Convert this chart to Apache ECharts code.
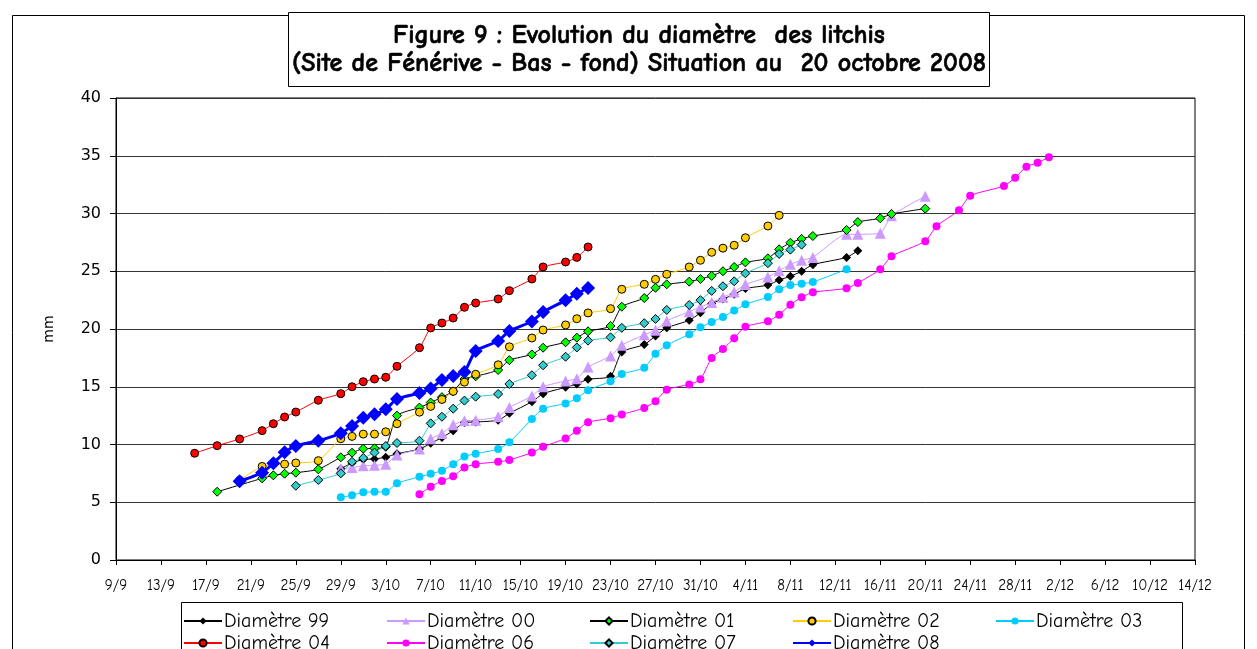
<!DOCTYPE html>
<html><head><meta charset="utf-8">
<script src="https://cdn.jsdelivr.net/npm/echarts@6/dist/echarts.min.js"></script>
<style>html,body{margin:0;padding:0;background:#fff}#c{width:1257px;height:649px}</style>
</head><body><div id="c"></div>
<script>
// ---- data ----
const xTickLabels = ['9/9','13/9','17/9','21/9','25/9','29/9','3/10','7/10','11/10','15/10','19/10','23/10','27/10','31/10','4/11','8/11','12/11','16/11','20/11','24/11','28/11','2/12','6/12','10/12','14/12'];
const yTicks = [0,5,10,15,20,25,30,35,40];

const dates99 = ['29/9','30/9','1/10','2/10','3/10','4/10','6/10','7/10','8/10','9/10','10/10','11/10','13/10','14/10','16/10','17/10','19/10','20/10','21/10','23/10','24/10','26/10','27/10','28/10','30/10','31/10','1/11','2/11','3/11','4/11','6/11','7/11','8/11','9/11','10/11','13/11','14/11'];
const vals99 = [7.9,8.4,8.7,8.75,8.9,9.2,9.6,10.1,10.6,11.2,11.9,11.95,12.1,12.7,13.7,14.4,14.95,15.24,15.65,15.9,18.0,18.65,19.4,20.1,20.75,21.4,22.2,22.6,23.0,23.5,23.8,24.24,24.56,25.0,25.57,26.2,26.78];

const dates00 = ['29/9','30/9','1/10','2/10','3/10','4/10','6/10','7/10','8/10','9/10','10/10','11/10','13/10','14/10','16/10','17/10','19/10','20/10','21/10','23/10','24/10','26/10','27/10','28/10','30/10','31/10','1/11','2/11','3/11','4/11','6/11','7/11','8/11','9/11','10/11','13/11','14/11','16/11','17/11','20/11'];
const vals00 = [7.9,8.0,8.15,8.2,8.3,9.1,9.6,10.5,10.95,11.7,12.05,12.1,12.4,13.2,14.2,15.0,15.5,15.7,16.7,17.66,18.6,19.5,19.9,20.7,21.5,21.9,22.3,22.75,23.2,23.85,24.5,25.05,25.6,25.95,26.2,28.2,28.2,28.3,29.8,31.5];

const dates01 = ['18/9','22/9','23/9','24/9','25/9','27/9','29/9','30/9','1/10','2/10','3/10','4/10','6/10','7/10','8/10','9/10','10/10','11/10','13/10','14/10','16/10','17/10','19/10','20/10','21/10','23/10','24/10','26/10','27/10','28/10','30/10','31/10','1/11','2/11','3/11','4/11','6/11','7/11','8/11','9/11','10/11','13/11','14/11','16/11','17/11','20/11'];
const vals01 = [5.91,7.07,7.33,7.47,7.56,7.85,8.89,9.29,9.64,9.67,9.8,12.5,13.2,13.63,14.1,14.6,15.67,15.9,16.45,17.3,17.8,18.38,18.85,19.25,19.8,20.26,21.93,22.68,23.57,23.87,24.1,24.33,24.6,25.0,25.37,25.77,26.12,26.9,27.47,27.8,28.05,28.57,29.26,29.58,29.96,30.42];

const dates02 = ['20/9','22/9','24/9','25/9','27/9','29/9','30/9','1/10','2/10','3/10','4/10','6/10','7/10','8/10','9/10','10/10','11/10','13/10','14/10','16/10','17/10','19/10','20/10','21/10','23/10','24/10','26/10','27/10','28/10','30/10','31/10','1/11','2/11','3/11','4/11','6/11','7/11'];
const vals02 = [6.9,8.1,8.3,8.4,8.6,10.5,10.7,10.9,10.9,11.1,11.8,12.8,13.3,13.9,14.6,15.4,16.08,16.9,18.46,19.22,19.91,20.35,20.89,21.39,21.76,23.44,23.87,24.3,24.74,25.37,25.95,26.64,27.0,27.25,27.9,28.92,29.84];

const dates03 = ['29/9','30/9','1/10','2/10','3/10','4/10','6/10','7/10','8/10','9/10','10/10','11/10','13/10','14/10','16/10','17/10','19/10','20/10','21/10','23/10','24/10','26/10','27/10','28/10','30/10','31/10','1/11','2/11','3/11','4/11','6/11','7/11','8/11','9/11','10/11','13/11'];
const vals03 = [5.43,5.6,5.86,5.9,5.9,6.64,7.2,7.47,7.73,8.3,8.96,9.2,9.6,10.2,12.2,13.1,13.56,14.0,14.7,15.47,16.1,16.65,17.86,18.6,19.55,20.15,20.6,21.04,21.6,22.14,22.77,23.44,23.8,23.92,24.07,25.17];

const dates04 = ['16/9','18/9','20/9','22/9','23/9','24/9','25/9','27/9','29/9','30/9','1/10','2/10','3/10','4/10','6/10','7/10','8/10','9/10','10/10','11/10','13/10','14/10','16/10','17/10','19/10','20/10','21/10'];
const vals04 = [9.24,9.9,10.48,11.2,11.8,12.38,12.81,13.83,14.4,15.0,15.44,15.67,15.82,16.77,18.38,20.09,20.52,20.95,21.88,22.25,22.6,23.32,24.33,25.37,25.8,26.2,27.1];

const dates06 = ['6/10','7/10','8/10','9/10','10/10','11/10','13/10','14/10','16/10','17/10','19/10','20/10','21/10','23/10','24/10','26/10','27/10','28/10','30/10','31/10','1/11','2/11','3/11','4/11','6/11','7/11','8/11','9/11','10/11','13/11','14/11','16/11','17/11','20/11','21/11','23/11','24/11','27/11','28/11','29/11','30/11','1/12'];
const vals06 = [5.69,6.35,6.84,7.25,8.0,8.3,8.5,8.66,9.3,9.8,10.53,11.2,11.93,12.27,12.6,13.16,13.74,14.75,15.2,15.64,17.5,18.27,19.2,20.2,20.67,21.24,22.1,22.74,23.18,23.52,23.98,25.17,26.3,27.6,28.9,30.28,31.54,32.38,33.1,34.05,34.4,34.87];

const dates07 = ['25/9','27/9','29/9','30/9','1/10','2/10','3/10','4/10','6/10','7/10','8/10','9/10','10/10','11/10','13/10','14/10','16/10','17/10','19/10','20/10','21/10','23/10','24/10','26/10','27/10','28/10','30/10','31/10','1/11','2/11','3/11','4/11','6/11','7/11','8/11','9/11'];
const vals07 = [6.43,6.93,7.5,8.5,8.83,9.3,9.87,10.13,10.33,11.83,12.4,13.1,13.8,14.14,14.37,15.24,16.0,16.86,17.6,18.4,19.0,19.28,20.1,20.5,20.87,21.65,22.08,22.5,23.3,23.7,24.13,24.82,25.7,26.5,26.87,27.3];

const dates08 = ['20/9','22/9','23/9','24/9','25/9','27/9','29/9','30/9','1/10','2/10','3/10','4/10','6/10','7/10','8/10','9/10','10/10','11/10','13/10','14/10','16/10','17/10','19/10','20/10','21/10'];
const vals08 = [6.81,7.56,8.37,9.32,9.87,10.33,10.97,11.6,12.32,12.61,13.05,13.94,14.46,14.85,15.58,15.93,16.28,18.1,18.96,19.83,20.65,21.47,22.48,23.06,23.55];

const seriesNames = ['Diamètre 99','Diamètre 00','Diamètre 01','Diamètre 02','Diamètre 03','Diamètre 04','Diamètre 06','Diamètre 07','Diamètre 08'];
const titleLine1 = 'Figure 9 : Evolution du diamètre  des litchis';
const titleLine2 = '(Site de Fénérive - Bas - fond) Situation au  20 octobre 2008';
const yName = 'mm';

// ---- helpers ----
const ORIGIN = Date.UTC(2008, 8, 9);
function dayOf(s) { const p = s.split('/'); return Math.round((Date.UTC(2008, +p[1]-1, +p[0]) - ORIGIN) / 86400000); }
function pts(dates, vals) { return dates.map((d, i) => [dayOf(d), vals[i]]); }

const FONT = "'Comic Sans MS','Comic Neue','Open Sans',sans-serif";

function mk(name, data, line, symbol, size, fill, border, lw) {
  return {
    name, type: 'line', data, smooth: 0.2, symbol, symbolSize: size,
    lineStyle: { color: line, width: lw || 1 },
    itemStyle: { color: fill, borderColor: border || fill, borderWidth: border ? 1 : 0 },
    emphasis: { disabled: true }, animation: false
  };
}

const series = [
  mk(seriesNames[0], pts(dates99, vals99), '#000000', 'diamond', 9, '#000000', null),
  mk(seriesNames[1], pts(dates00, vals00), '#CC99FF', 'triangle', 11, '#CC99FF', null),
  mk(seriesNames[2], pts(dates01, vals01), '#000000', 'diamond', 9, '#00FF00', '#000000'),
  mk(seriesNames[3], pts(dates02, vals02), '#FFCC00', 'circle', 8, '#FFCC00', '#000000'),
  mk(seriesNames[4], pts(dates03, vals03), '#00CCFF', 'circle', 8, '#00CCFF', null),
  mk(seriesNames[5], pts(dates04, vals04), '#FF0000', 'circle', 8, '#FF0000', '#000000'),
  mk(seriesNames[6], pts(dates06, vals06), '#FF00FF', 'circle', 8, '#FF00FF', null),
  mk(seriesNames[7], pts(dates07, vals07), '#33CCCC', 'diamond', 9, '#33CCCC', '#000000'),
  mk(seriesNames[8], pts(dates08, vals08), '#0000FF', 'diamond', 14, '#0000FF', null, 3)
];

// one legend per item, laid out on a 5-column grid like the original
const legends = seriesNames.map((n, i) => ({
  data: [n], left: 183 + (i % 5) * 203, top: i < 5 ? 611 : 633,
  itemWidth: 38, itemHeight: 9, itemGap: 0, padding: 0, selectedMode: false,
  textStyle: { fontFamily: FONT, fontSize: 20, color: '#000', padding: [0, 0, 0, -3] }
}));

const chart = echarts.init(document.getElementById('c'), null, { renderer: 'canvas' });
chart.setOption({
  animation: false,
  backgroundColor: '#fff',
  grid: { left: 116, right: 62, top: 98, bottom: 89, show: true, borderColor: '#000', borderWidth: 1 },
  xAxis: {
    type: 'value', min: 0, max: 96, interval: 4,
    axisLine: { lineStyle: { color: '#000' } },
    axisTick: { show: true, length: 5, lineStyle: { color: '#000' } },
    splitLine: { show: false },
    axisLabel: { fontFamily: FONT, fontSize: 15, color: '#000', margin: 18,
      formatter: v => xTickLabels[Math.round(v / 4)] || '' }
  },
  yAxis: {
    type: 'value', min: yTicks[0], max: yTicks[yTicks.length-1], interval: 5,
    name: yName, nameLocation: 'middle', nameGap: 60, nameRotate: 90,
    nameTextStyle: { fontFamily: 'DejaVu Sans', fontSize: 14, color: '#000' },
    axisLine: { show: true, lineStyle: { color: '#000' } },
    axisTick: { show: true, length: 6, lineStyle: { color: '#000' } },
    splitLine: { show: true, lineStyle: { color: '#333', width: 1 } },
    axisLabel: { fontFamily: 'DejaVu Sans', fontSize: 16, color: '#000', margin: 15 }
  },
  legend: legends,
  graphic: [
    { type: 'rect', shape: { x: 12.5, y: 15.5, width: 1232, height: 700 }, style: { fill: null, stroke: '#000', lineWidth: 1 }, z: -1, silent: true },
    { type: 'rect', shape: { x: 181.5, y: 602.5, width: 1001, height: 80 }, style: { fill: null, stroke: '#000', lineWidth: 1 }, silent: true },
    { type: 'rect', shape: { x: 288.5, y: 12.5, width: 701, height: 74 }, style: { fill: '#fff', stroke: '#000', lineWidth: 1 }, silent: true },
    { type: 'text', x: 639, y: 36, style: { text: titleLine1, fontFamily: FONT, fontSize: 26, fontWeight: 700, fill: '#000', stroke: '#000', lineWidth: 0.6, align: 'center', verticalAlign: 'middle' }, silent: true },
    { type: 'text', x: 639, y: 64, style: { text: titleLine2, fontFamily: FONT, fontSize: 26, fontWeight: 700, fill: '#000', stroke: '#000', lineWidth: 0.6, align: 'center', verticalAlign: 'middle' }, silent: true }
  ],
  series
});
</script></body></html>
